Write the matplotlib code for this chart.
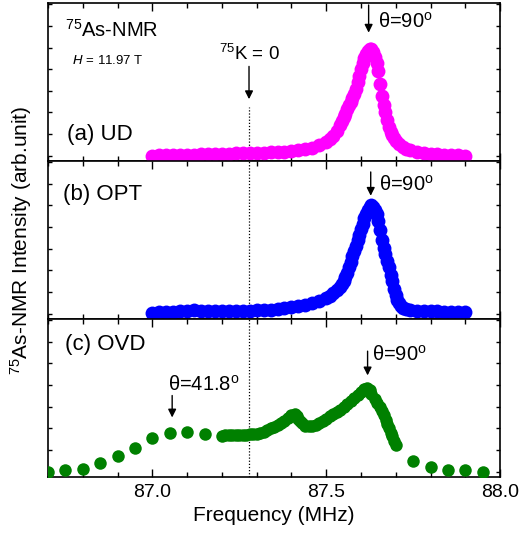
import matplotlib
matplotlib.use("Agg")
import matplotlib.pyplot as plt
from matplotlib.ticker import MultipleLocator

plt.rcParams['font.family'] = ['Liberation Sans', 'DejaVu Sans']
plt.rcParams['mathtext.default'] = 'regular'

# (a) UD
freq_ud = [87.00, 87.02, 87.04, 87.06, 87.08, 87.10, 87.12, 87.14, 87.16, 87.18,
           87.20, 87.22, 87.24, 87.26, 87.28, 87.30, 87.32, 87.34, 87.36, 87.38,
           87.40, 87.42, 87.44, 87.46, 87.48, 87.50, 87.51, 87.52, 87.53, 87.54,
           87.545, 87.55, 87.555, 87.56, 87.565, 87.57, 87.575, 87.58, 87.585, 87.59,
           87.595, 87.60, 87.605, 87.61, 87.615, 87.62, 87.625, 87.63, 87.635, 87.64,
           87.645, 87.65, 87.655, 87.66, 87.665, 87.67, 87.675, 87.68, 87.685, 87.69,
           87.695, 87.70, 87.71, 87.72, 87.73, 87.74, 87.76, 87.78, 87.80, 87.82,
           87.84, 87.86, 87.88, 87.90]
int_ud = [0.000, 0.003, 0.005, 0.007, 0.009, 0.010, 0.011, 0.013, 0.015, 0.017,
          0.019, 0.020, 0.021, 0.023, 0.025, 0.027, 0.030, 0.032, 0.035, 0.038,
          0.042, 0.050, 0.060, 0.075, 0.098, 0.130, 0.155, 0.185, 0.230, 0.285,
          0.32, 0.355, 0.39, 0.43, 0.465, 0.50, 0.535, 0.57, 0.62, 0.68,
          0.74, 0.80, 0.855, 0.90, 0.94, 0.97, 0.99, 0.99, 0.96, 0.91,
          0.86, 0.78, 0.66, 0.55, 0.47, 0.40, 0.33, 0.27, 0.22, 0.19,
          0.16, 0.14, 0.105, 0.08, 0.06, 0.05, 0.035, 0.025, 0.018, 0.013,
          0.010, 0.007, 0.004, 0.002]

# (b) OPT
freq_opt = [87.00, 87.02, 87.04, 87.06, 87.08, 87.10, 87.12, 87.14, 87.16, 87.18,
            87.20, 87.22, 87.24, 87.26, 87.28, 87.30, 87.32, 87.34, 87.36, 87.38,
            87.40, 87.42, 87.44, 87.46, 87.48, 87.50, 87.51, 87.52, 87.53, 87.54,
            87.545, 87.55, 87.555, 87.56, 87.565, 87.57, 87.575, 87.58, 87.585, 87.59,
            87.595, 87.60, 87.605, 87.61, 87.615, 87.62, 87.625, 87.63, 87.635, 87.64,
            87.645, 87.65, 87.655, 87.66, 87.665, 87.67, 87.675, 87.68, 87.685, 87.69,
            87.695, 87.70, 87.705, 87.71, 87.715, 87.72, 87.73, 87.74, 87.76, 87.78,
            87.80, 87.82, 87.84, 87.86, 87.88, 87.90]
int_opt = [0.010, 0.012, 0.015, 0.018, 0.022, 0.026, 0.030, 0.026, 0.022, 0.021,
           0.022, 0.023, 0.024, 0.026, 0.028, 0.031, 0.034, 0.038, 0.043, 0.050,
           0.058, 0.068, 0.080, 0.095, 0.115, 0.145, 0.165, 0.19, 0.215, 0.245,
           0.27, 0.30, 0.34, 0.38, 0.43, 0.48, 0.53, 0.58, 0.63, 0.68,
           0.73, 0.78, 0.83, 0.88, 0.92, 0.96, 0.99, 1.00, 0.99, 0.96,
           0.92, 0.86, 0.77, 0.68, 0.61, 0.55, 0.49, 0.43, 0.36, 0.30,
           0.23, 0.17, 0.13, 0.10, 0.075, 0.055, 0.04, 0.033, 0.028, 0.025,
           0.022, 0.020, 0.019, 0.017, 0.015, 0.012]

# (c) OVD
freq_ovd = [86.70, 86.75, 86.80, 86.85, 86.90, 86.95, 87.00, 87.05, 87.10, 87.15,
            87.20, 87.21, 87.22, 87.23, 87.24, 87.25, 87.26, 87.27, 87.28, 87.29,
            87.30, 87.31, 87.32, 87.33, 87.34, 87.35, 87.36, 87.37, 87.38, 87.39,
            87.40, 87.41, 87.415, 87.42, 87.425, 87.43, 87.44, 87.45, 87.46, 87.47,
            87.48, 87.49, 87.50, 87.51, 87.52, 87.53, 87.54, 87.55, 87.56, 87.57,
            87.58, 87.59, 87.60, 87.61, 87.618, 87.625, 87.63, 87.64, 87.647, 87.654,
            87.661, 87.666, 87.671, 87.676, 87.68, 87.685, 87.69, 87.695, 87.70, 87.75,
            87.80, 87.85, 87.90, 87.95]
int_ovd = [0.0, 0.01, 0.027, 0.08, 0.14, 0.22, 0.31, 0.36, 0.365, 0.35,
           0.33, 0.335, 0.34, 0.338, 0.335, 0.337, 0.34, 0.342, 0.345, 0.347,
           0.35, 0.36, 0.37, 0.385, 0.40, 0.415, 0.43, 0.45, 0.47, 0.495,
           0.52, 0.53, 0.515, 0.49, 0.465, 0.45, 0.425, 0.42, 0.425, 0.435,
           0.45, 0.47, 0.49, 0.51, 0.53, 0.55, 0.57, 0.595, 0.62, 0.65,
           0.68, 0.71, 0.74, 0.76, 0.77, 0.75, 0.72, 0.67, 0.635, 0.60,
           0.557, 0.52, 0.48, 0.44, 0.40, 0.36, 0.325, 0.285, 0.25, 0.10,
           0.045, 0.015, 0.01, 0.0]

k_zero = 87.278

fig, axes = plt.subplots(3, 1, sharex=True, figsize=(5.22, 5.42), dpi=100)
fig.subplots_adjust(left=0.092, right=0.958, bottom=0.12, top=0.994, hspace=0)

series = [(freq_ud, int_ud, '#ff00ff', 10),
          (freq_opt, int_opt, '#0000ff', 10),
          (freq_ovd, int_ovd, '#008000', 9)]

for ax, (fr, it, c, ms) in zip(axes, series):
    ax.plot(fr, it, 'o', color=c, markersize=ms, markeredgewidth=0, zorder=3)
    ax.set_xlim(86.7, 88.0)
    ax.set_ylim(-0.05, 1.41)
    ax.xaxis.set_major_locator(MultipleLocator(0.5))
    ax.xaxis.set_minor_locator(MultipleLocator(0.1))
    ax.yaxis.set_major_locator(MultipleLocator(0.2))
    ax.tick_params(which='both', direction='in', top=True, right=True,
                   labelleft=False, labelsize=14, width=1, pad=5)
    ax.tick_params(axis='x', which='major', length=6)
    ax.tick_params(axis='x', which='minor', length=3.5)
    ax.tick_params(axis='y', which='major', length=3)
    for s in ax.spines.values():
        s.set_linewidth(1.2)

# dotted K=0 line
axes[0].axvline(k_zero, ymax=0.346, color='k', ls=(0, (1, 1.5)), lw=0.9)
axes[1].axvline(k_zero, color='k', ls=(0, (1, 1.5)), lw=0.9)
axes[2].axvline(k_zero, color='k', ls=(0, (1, 1.5)), lw=0.9)

arrow = dict(arrowstyle='-|>', color='k', lw=1, mutation_scale=12, shrinkA=0, shrinkB=0)

ax = axes[0]
ax.text(86.75, 1.165, '$^{75}$As-NMR', fontsize=14.5, ha='left', va='center')
ax.text(86.769, 0.88, '$\\it{H}$ = 11.97 T', fontsize=9.5, ha='left', va='center')
ax.text(k_zero, 0.94, '$^{75}$K = 0', fontsize=13.5, ha='center', va='center')
ax.annotate('', xy=(k_zero, 0.523), xytext=(k_zero, 0.826), arrowprops=arrow)
ax.annotate('', xy=(87.622, 1.138), xytext=(87.622, 1.394), arrowprops=arrow)
ax.text(87.648, 1.24, 'θ=90$^{o}$', fontsize=14.5, ha='left', va='center')
ax.text(86.755, 0.20, '(a) UD', fontsize=16, ha='left', va='center')

ax = axes[1]
ax.text(86.743, 1.10, '(b) OPT', fontsize=16, ha='left', va='center')
ax.annotate('', xy=(87.628, 1.09), xytext=(87.628, 1.31), arrowprops=arrow)
ax.text(87.653, 1.19, 'θ=90$^{o}$', fontsize=14.5, ha='left', va='center')

ax = axes[2]
ax.text(86.749, 1.178, '(c) OVD', fontsize=16, ha='left', va='center')
ax.annotate('', xy=(87.619, 0.889), xytext=(87.619, 1.113), arrowprops=arrow)
ax.text(87.633, 1.085, 'θ=90$^{o}$', fontsize=14.5, ha='left', va='center')
ax.annotate('', xy=(87.057, 0.50), xytext=(87.057, 0.703), arrowprops=arrow)
ax.text(87.045, 0.806, 'θ=41.8$^{o}$', fontsize=14.5, ha='left', va='center')
ax.set_xlabel('Frequency (MHz)', fontsize=15, labelpad=4)
ax.set_xticks([87.0, 87.5, 88.0])
ax.set_xticklabels(['87.0', '87.5', '88.0'])

fig.text(0.041, 0.557, '$^{75}$As-NMR Intensity (arb.unit)', rotation=90,
         fontsize=15, ha='center', va='center')

fig.savefig('out.png', dpi=100)
